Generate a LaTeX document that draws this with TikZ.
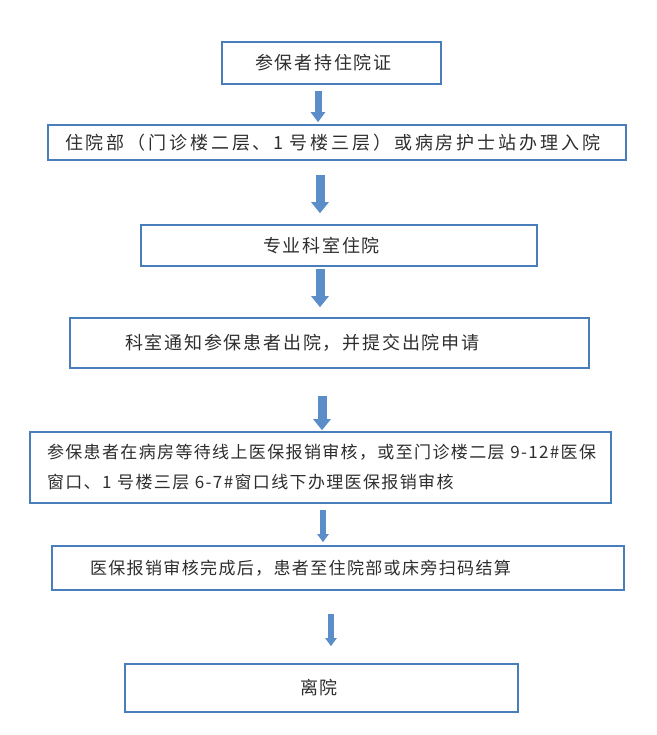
\documentclass[tikz,border=0pt]{standalone}
\usepackage{fontspec}
\newfontfamily\cjk{Noto Sans CJK SC}
\usepackage{xcolor}
\usetikzlibrary{arrows.meta}
\definecolor{boxblue}{HTML}{4A7EBB}
\definecolor{arrowblue}{HTML}{5B8DC9}
\definecolor{textgray}{HTML}{2E2E2E}
\tikzset{
  flowbox/.style={draw=boxblue, line width=1.6pt, align=left, text=textgray, inner ysep=0pt,
                  font=\cjk\fontsize{18}{31}\selectfont\addfontfeature{LetterSpace=10}},
  widebox/.style={flowbox, font=\cjk\fontsize{18}{31}\selectfont\addfontfeature{LetterSpace=16}},
  tightbox/.style={flowbox, font=\cjk\fontsize{17}{30}\selectfont\addfontfeature{LetterSpace=8}},
  flowarrow/.style={draw=arrowblue, line width=9pt, -{Triangle[width=17pt,length=11pt]}},
  thinarrow/.style={draw=arrowblue, line width=5.5pt, -{Triangle[width=11pt,length=8pt]}}
}

\begin{document}
\begin{tikzpicture}[x=1pt, y=-1pt]
\useasboundingbox (0,0) rectangle (656,735);

% Steps (top to bottom)
\node[flowbox, minimum height=42pt, inner xsep=33pt, text width=153pt] (card) at (331.5,63) {参保者持住院证};
\node[widebox, minimum height=35pt, inner xsep=17pt, text width=544pt] (admit) at (337,142.5) {\mbox{住院部（门诊楼二层、1 号楼三层）或病房护士站办理入院}};
\node[flowbox, minimum height=41pt, inner xsep=122pt, text width=152pt] (ward) at (339,245.5) {专业科室住院};
\node[flowbox, minimum height=50pt, inner xsep=55pt, text width=409pt] (notice) at (329.5,343) {科室通知参保患者出院，并提交出院申请};
\node[tightbox, minimum height=71pt, inner xsep=17pt, text width=547pt] (audit) at (320.5,467.5) {\mbox{参保患者在病房等待线上医保报销审核，或至门诊楼二层 9-12\#医保}\\\mbox{窗口、1 号楼三层 6-7\#窗口线下办理医保报销审核}};
\node[tightbox, minimum height=44pt, inner xsep=38pt, text width=496pt] (settle) at (338,568) {医保报销审核完成后，患者至住院部或床旁扫码结算};
\node[flowbox, minimum height=48pt, inner xsep=175pt, text width=43pt] (leave) at (321.5,688) {离院};

% Arrows
\draw[flowarrow, line width=7pt, -{Triangle[width=14pt,length=10pt]}, shorten <=6pt, shorten >=2pt]
  ([xshift=-13.5pt]card.south) -- ([xshift=-19pt]admit.north);
\draw[flowarrow, shorten <=14pt, shorten >=11pt] ([xshift=-17pt]admit.south) -- ([xshift=-19pt]ward.north);
\draw[flowarrow, shorten <=2pt, shorten >=10pt] ([xshift=-19pt]ward.south) -- ([xshift=-9.5pt]notice.north);
\draw[flowarrow, shorten <=27pt, shorten >=1pt] ([xshift=-7.5pt]notice.south) -- ([xshift=1.5pt]audit.north);
\draw[thinarrow, shorten <=6pt, shorten >=3pt] ([xshift=2.5pt]audit.south) -- ([xshift=-15pt]settle.north);
\draw[thinarrow, shorten <=23pt, shorten >=17pt] ([xshift=-7pt]settle.south) -- ([xshift=9.5pt]leave.north);

\end{tikzpicture}
\end{document}
